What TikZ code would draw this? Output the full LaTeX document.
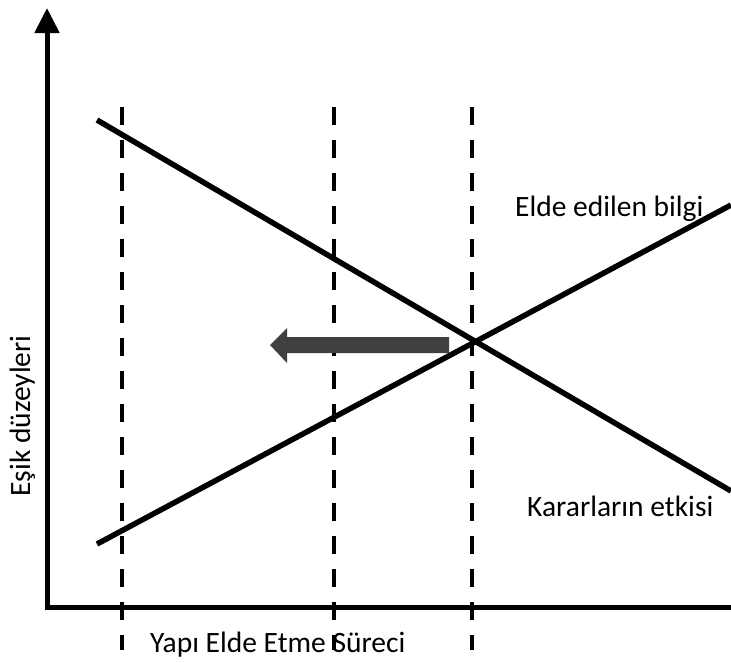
\documentclass[tikz,border=0pt]{standalone}
\usepackage{fontspec}
\setmainfont{Carlito}
\usetikzlibrary{arrows.meta}
\begin{document}
\begin{tikzpicture}[x=1pt,y=-1pt,
  axisline/.style={line width=5pt,line cap=rect},
  guideline/.style={line width=4.5pt,dash pattern=on 18pt off 15pt},
  trendline/.style={line width=5.5pt},
  lbl/.style={inner sep=0pt,font=\fontsize{29.5}{32}\selectfont},
  shiftarrow/.style={fill=black!75,draw=none}]
\useasboundingbox (0,0) rectangle (731,662);
% axes
\coordinate (O) at (47,607);
\coordinate (Ytop) at (47,8);
\coordinate (Xend) at (731,607);
\draw[axisline,-{Triangle[width=24pt,length=25pt]}] (O) -- (Ytop);
\draw[axisline] (O) -- (Xend);
% dashed guides
\foreach \n/\x in {a/122,b/334,c/472}{
  \coordinate (g\n1) at (\x,107);
  \coordinate (g\n2) at (\x,650);
  \draw[guideline] (g\n1) -- (g\n2);
}
% trend lines
\coordinate (d1) at (97,120);
\coordinate (d2) at (731,491);
\coordinate (u1) at (97,544);
\coordinate (u2) at (731,205);
\draw[trendline] (d1) -- (d2);
\draw[trendline] (u1) -- (u2);
% grey arrow
\coordinate (tip) at (270,345);
\fill[shiftarrow] (449,337) -- (287,337) -- (287,328) -- (tip) -- (287,363) -- (287,353) -- (449,353) -- cycle;
% labels
\node[lbl,anchor=base west] (bilgi) at (515,216) {Elde edilen bilgi};
\node[lbl,anchor=base west] (etki) at (527,516) {Kararların etkisi};
\node[lbl,anchor=base west] (surec) at (150,652) {Yapı Elde Etme Süreci};
\node[lbl,rotate=90,anchor=base] (esik) at (30,416) {Eşik düzeyleri};
\end{tikzpicture}
\end{document}
